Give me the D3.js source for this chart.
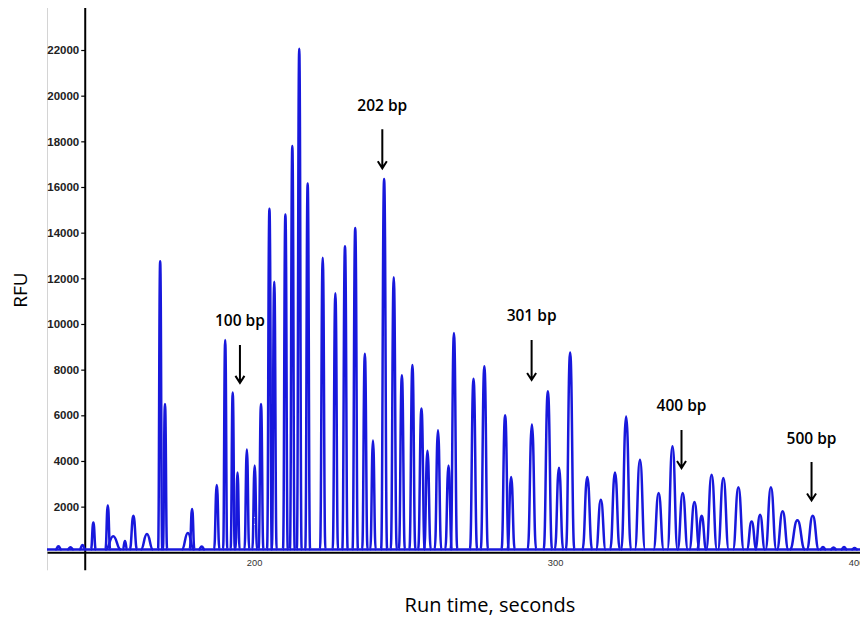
<!DOCTYPE html>
<html>
<head>
<meta charset="utf-8">
<script src="https://cdn.jsdelivr.net/npm/d3@7"></script>
<style>
  body { margin: 0; background: #fff; }
  svg { display: block; }
</style>
</head>
<body>
<svg id="chart"></svg>
<script>
"use strict";

// peaks: run time (s), height (RFU), half base width (s)
const peakTimes = [
  135.0, 139.0, 143.0, 146.6, 151.4, 153.2, 157.1, 159.9, 164.4, 168.8,
  170.4, 178.0, 179.4, 182.6, 187.6, 190.4, 192.9, 194.5, 197.6, 200.2,
  202.3, 205.1, 206.7, 210.4, 212.7, 215.0, 217.8, 222.8, 227.0, 230.2,
  233.6, 236.8, 239.5, 243.2, 246.4, 249.1, 252.6, 255.6, 257.6, 261.1,
  264.6, 266.4, 272.9, 276.5, 283.4, 285.4, 292.3, 297.6, 301.3, 305.0,
  310.7, 315.2, 319.9, 323.6, 328.2, 334.4, 339.0, 342.4, 346.3, 348.7,
  352.0, 355.9, 360.9, 365.3, 368.1, 371.7, 375.6, 380.5, 385.6, 389.0,
  392.5, 396.0, 399.5
];
const peakHeights = [
  260, 220, 320, 1300, 2050, 700, 500, 1600, 800, 12750,
  6500, 850, 1900, 250, 2950, 9300, 7000, 3500, 4500, 3800,
  6500, 15050, 11850, 14800, 17800, 22050, 16150, 12900, 11350, 13400,
  14200, 8700, 4900, 16350, 12050, 7750, 8200, 6300, 4450, 5350,
  3800, 9600, 7600, 8150, 6000, 3300, 5600, 7050, 3700, 8750,
  3300, 2300, 3500, 5950, 4050, 2600, 4650, 2600, 2200, 1600,
  3400, 3250, 2850, 1350, 1650, 2850, 1800, 1400, 1600, 230,
  210, 230, 190
];
const peakWidths = [
  1.0, 1.0, 1.0, 0.8, 0.8, 2.5, 0.7, 1.2, 2.0, 0.7,
  0.7, 2.0, 0.8, 1.0, 0.9, 0.7, 0.7, 0.7, 0.8, 0.8,
  0.8, 0.8, 0.8, 0.8, 0.8, 0.8, 0.8, 0.9, 0.9, 0.9,
  0.9, 0.9, 0.9, 1.0, 1.0, 1.0, 1.0, 1.1, 1.1, 1.1,
  1.1, 1.1, 1.2, 1.2, 1.2, 1.2, 1.4, 1.4, 1.4, 1.4,
  1.6, 1.6, 1.6, 1.6, 1.7, 1.7, 1.7, 1.7, 1.7, 1.5,
  1.8, 1.8, 1.8, 1.6, 1.6, 1.8, 1.9, 2.5, 2.0, 1.0,
  1.0, 1.0, 1.0
];
const baseLevel = 120;

const xTicks = [200, 300, 400];
const yTicks = [2000, 4000, 6000, 8000, 10000, 12000, 14000, 16000, 18000, 20000, 22000];

// size markers: label, arrow time, arrow top (RFU), arrow tip (RFU)
const markerLabels = ["100 bp", "202 bp", "301 bp", "400 bp", "500 bp"];
const markerTimes = [195.3, 242.6, 292.2, 342.0, 385.2];
const markerTops = [9080, 18530, 9300, 5360, 3950];
const markerTips = [7420, 16820, 7550, 3690, 2270];

const width = 860;
const height = 617;
const plotLeft = 47;
const plotRight = 860;
const plotTop = 8;
const plotBottom = 552.3;
const yAxisTime = 143.9;

const svg = d3.select("#chart").attr("width", width).attr("height", height);

const xScale = d3.scaleLinear().domain([131.2, 401.3]).range([plotLeft, plotRight]);
const yScale = d3.scaleLinear().domain([0, 23840]).range([plotBottom, plotTop]);

// faint frame line on the left
svg.append("line")
  .attr("x1", plotLeft + 0.5).attr("x2", plotLeft + 0.5)
  .attr("y1", plotTop).attr("y2", plotBottom + 18)
  .attr("stroke", "#d4d4d4").attr("stroke-width", 1);

// x axis (baseline)
const xAxis = d3.axisBottom(xScale).tickValues(xTicks).tickSize(0).tickSizeOuter(0).tickPadding(7);
const gx = svg.append("g")
  .attr("transform", `translate(0,${plotBottom})`)
  .call(xAxis);
gx.select(".domain").attr("stroke", "#000").attr("stroke-width", 2);
gx.selectAll("text")
  .attr("font-family", "'Liberation Sans', Arial, sans-serif")
  .attr("font-size", 9.3)
  .attr("fill", "#333");

// y axis
const yAxis = d3.axisLeft(yScale).tickValues(yTicks).tickSize(4).tickPadding(2).tickFormat(d3.format("d"));
const gy = svg.append("g")
  .attr("transform", `translate(${xScale(yAxisTime)},0)`)
  .call(yAxis);
gy.select(".domain").remove();
gy.selectAll(".tick line").attr("stroke", "#000").attr("stroke-width", 1.2);
gy.selectAll("text")
  .attr("font-family", "'Liberation Sans Narrow', 'Arial Narrow', 'Liberation Sans', sans-serif")
  .attr("font-weight", "bold")
  .attr("font-size", 11.5)
  .attr("fill", "#222");
gy.append("line")
  .attr("x1", 0).attr("x2", 0)
  .attr("y1", plotTop).attr("y2", plotBottom + 18)
  .attr("stroke", "#000").attr("stroke-width", 2);

// trace
const traceColor = "#1818dc";
const line = d3.line()
  .x((d) => xScale(d[0]))
  .y((d) => yScale(d[1]))
  .curve(d3.curveBumpX);

svg.append("path")
  .attr("d", line([[xScale.domain()[0], baseLevel], [xScale.domain()[1], baseLevel]]))
  .attr("fill", "none")
  .attr("stroke", traceColor)
  .attr("stroke-width", 2.5);

const peaks = peakTimes.map((t, i) => ({ t: t, h: peakHeights[i], w: peakWidths[i] }));

svg.append("g")
  .selectAll("path")
  .data(peaks)
  .enter()
  .append("path")
  .attr("d", (p) => line([[p.t - p.w, baseLevel], [p.t, p.h], [p.t + p.w, baseLevel]]))
  .attr("fill", "none")
  .attr("stroke", traceColor)
  .attr("stroke-width", 2.5)
  .attr("stroke-linejoin", "round");

// size markers
const markers = markerLabels.map((label, i) => ({
  label: label, t: markerTimes[i], top: markerTops[i], tip: markerTips[i]
}));

const mg = svg.append("g")
  .selectAll("g")
  .data(markers)
  .enter()
  .append("g");

mg.append("path")
  .attr("d", (m) => {
    const x = xScale(m.t);
    const y0 = yScale(m.top);
    const y1 = yScale(m.tip);
    return `M${x},${y0}L${x},${y1}M${x - 4.5},${y1 - 7}L${x},${y1}L${x + 4.5},${y1 - 7}`;
  })
  .attr("fill", "none")
  .attr("stroke", "#000")
  .attr("stroke-width", 2);

mg.append("text")
  .attr("x", (m) => xScale(m.t))
  .attr("y", (m) => yScale(m.top) - 24)
  .attr("dy", "0.35em")
  .attr("text-anchor", "middle")
  .attr("font-family", "'Open Sans', sans-serif")
  .attr("font-weight", 600)
  .attr("font-size", 15.5)
  .attr("fill", "#000")
  .text((m) => m.label);

// axis titles
svg.append("text")
  .attr("transform", "translate(20,290) rotate(-90)")
  .attr("text-anchor", "middle")
  .attr("dy", "0.35em")
  .attr("font-family", "'Open Sans', sans-serif")
  .attr("font-size", 19)
  .attr("fill", "#000")
  .text("RFU");

svg.append("text")
  .attr("x", 490)
  .attr("y", 605)
  .attr("text-anchor", "middle")
  .attr("dy", "0.35em")
  .attr("font-family", "'Open Sans', sans-serif")
  .attr("font-size", 20)
  .attr("fill", "#000")
  .text("Run time, seconds");
</script>
</body>
</html>
